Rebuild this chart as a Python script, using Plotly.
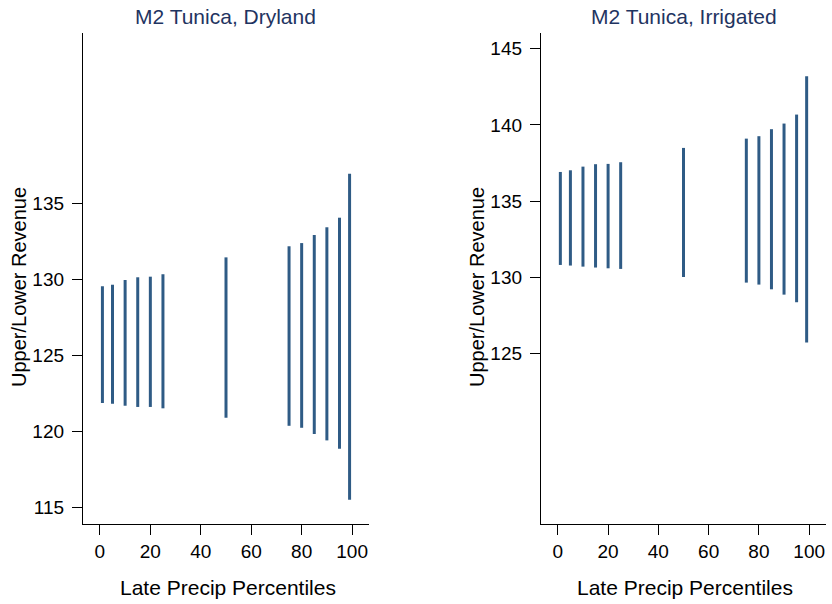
import plotly.graph_objects as go

percentiles = [1, 5, 10, 15, 20, 25, 50, 75, 80, 85, 90, 95, 99]

dry_upper = [129.57, 129.67, 129.98, 130.16, 130.20, 130.36, 131.47, 132.20, 132.41, 132.94, 133.45, 134.08, 136.97]
dry_lower = [121.89, 121.84, 121.71, 121.63, 121.63, 121.54, 120.92, 120.39, 120.26, 119.85, 119.43, 118.88, 115.53]

irr_upper = [136.91, 137.02, 137.26, 137.42, 137.44, 137.55, 138.49, 139.10, 139.26, 139.72, 140.09, 140.68, 143.20]
irr_lower = [130.80, 130.76, 130.69, 130.63, 130.58, 130.54, 130.01, 129.64, 129.51, 129.20, 128.85, 128.35, 125.70]

panel_titles = ["M2 Tunica, Dryland", "M2 Tunica, Irrigated"]
x_title = "Late Precip Percentiles"
y_title = "Upper/Lower Revenue"
x_ticks = [0, 20, 40, 60, 80, 100]
dry_y_ticks = [115, 120, 125, 130, 135]
irr_y_ticks = [125, 130, 135, 140, 145]

BAR = "#2f5b85"
TITLE_C = "#1f3461"
FONT = "Liberation Sans, Arial, sans-serif"


def spikes(xs, lo, hi):
    X, Y = [], []
    for x, a, b in zip(xs, lo, hi):
        X += [x, x, None]
        Y += [a, b, None]
    return X, Y


fig = go.Figure()
X, Y = spikes(percentiles, dry_lower, dry_upper)
fig.add_trace(go.Scatter(x=X, y=Y, mode="lines", line=dict(color=BAR, width=3),
                         xaxis="x", yaxis="y", showlegend=False, hoverinfo="skip"))
X, Y = spikes(percentiles, irr_lower, irr_upper)
fig.add_trace(go.Scatter(x=X, y=Y, mode="lines", line=dict(color=BAR, width=3),
                         xaxis="x2", yaxis="y2", showlegend=False, hoverinfo="skip"))

W, H = 832, 604
top, bot = 33, 524
yd = [1 - bot / H, 1 - top / H]

axis_common = dict(showgrid=False, zeroline=False, showline=True, linecolor="black",
                   linewidth=1.3, ticks="outside", ticklen=10, tickwidth=1.3,
                   tickcolor="black", tickfont=dict(family=FONT, size=19, color="black"))

fig.update_layout(
    width=W, height=H,
    margin=dict(l=0, r=0, t=0, b=0),
    paper_bgcolor="white", plot_bgcolor="white",
    font=dict(family=FONT),
    xaxis=dict(domain=[83 / W, 369 / W], range=[-6.7, 106.7], tickvals=x_ticks,
               anchor="y", **axis_common),
    yaxis=dict(domain=yd, range=[113.93, 146.23], tickvals=dry_y_ticks,
               anchor="x", ticklabelstandoff=4, **axis_common),
    xaxis2=dict(domain=[541 / W, 826 / W], range=[-6.7, 106.7], tickvals=x_ticks,
                anchor="y2", **axis_common),
    yaxis2=dict(domain=yd, range=[113.78, 146.04], tickvals=irr_y_ticks,
                anchor="x2", ticklabelstandoff=4, **axis_common),
)

ann = []
for cx, t in [(226, panel_titles[0]), (683.5, panel_titles[1])]:
    ann.append(dict(x=cx / W, y=1 - 17 / H, xref="paper", yref="paper", text=t,
                    showarrow=False, xanchor="center", yanchor="middle",
                    font=dict(family=FONT, size=21, color=TITLE_C)))
for cx in [228, 684.5]:
    ann.append(dict(x=cx / W, y=1 - 587 / H, xref="paper", yref="paper", text=x_title,
                    showarrow=False, xanchor="center", yanchor="middle",
                    font=dict(family=FONT, size=21, color="black")))
for cx in [19, 477]:
    ann.append(dict(x=cx / W, y=1 - 287 / H, xref="paper", yref="paper", text=y_title,
                    showarrow=False, xanchor="center", yanchor="middle", textangle=-90,
                    font=dict(family=FONT, size=20, color="black")))
fig.update_layout(annotations=ann)

fig.write_html("out.html", config={"displayModeBar": False})
with open("out.html", "r", encoding="utf-8") as f:
    html = f.read()
html = html.replace("<body>", '<body style="margin:0;padding:0;overflow:hidden">', 1)
with open("out.html", "w", encoding="utf-8") as f:
    f.write(html)
